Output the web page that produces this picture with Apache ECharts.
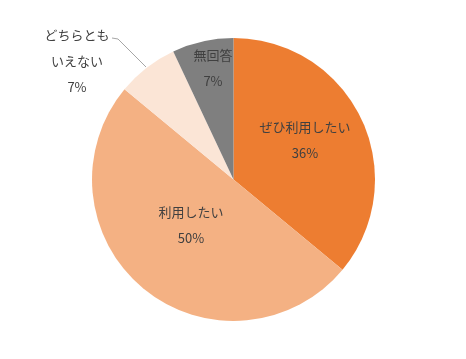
<!DOCTYPE html>
<html>
<head>
<meta charset="utf-8">
<script src="https://cdn.jsdelivr.net/npm/echarts@6/dist/echarts.min.js"></script>
<style>
html,body{margin:0;padding:0;background:#fff;}
#c{width:466px;height:359px;}
</style>
</head>
<body>
<div id="c"></div>
<script>
const categories = ['ぜひ利用したい', '利用したい', 'どちらともいえない', '無回答'];
const values = [36, 50, 7, 7];
const colors = ['#ED7D31', '#F4B183', '#FBE5D6', '#7F7F7F'];
const labelText = ['ぜひ利用したい\n{d}%', '利用したい\n{d}%', 'どちらとも\nいえない\n{d}%', '無回答\n{d}%'];
// label centres (text placement only)
const labelPos = [[305, 140], [191, 225], [77, 61], [213, 68]];

const chart = echarts.init(document.getElementById('c'), null, {renderer: 'canvas'});
chart.setOption({
  animation: false,
  backgroundColor: '#ffffff',
  series: [{
    type: 'pie',
    center: [233.5, 179.5],
    radius: 141.5,
    startAngle: 90,
    clockwise: true,
    data: categories.map((n, i) => ({
      name: n,
      value: values[i],
      itemStyle: {color: colors[i]},
      label: {formatter: labelText[i], position: i === 2 ? 'outside' : 'inside'},
      labelLine: {show: i === 2}
    })),
    label: {
      show: true,
      color: '#404040',
      fontFamily: '"Noto Sans CJK JP", sans-serif',
      fontSize: 13,
      lineHeight: 26,
      align: 'center'
    },
    labelLine: {
      lineStyle: {color: '#A6A6A6', width: 1}
    },
    labelLayout: function (p) {
      const i = p.dataIndex;
      const out = {
        x: labelPos[i][0],
        y: labelPos[i][1],
        align: 'center',
        verticalAlign: 'middle'
      };
      if (i === 2) {
        out.labelLinePoints = [[146, 67], [118, 39], [112, 38]];
      }
      return out;
    }
  }]
});
</script>
</body>
</html>
